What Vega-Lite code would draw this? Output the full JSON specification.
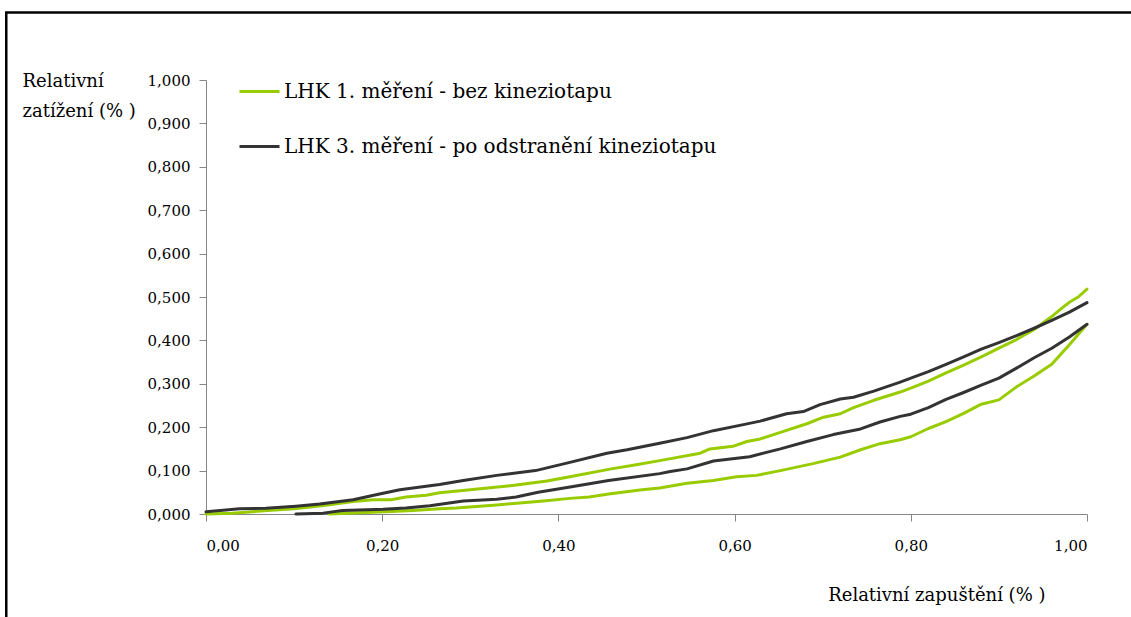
{
  "$schema": "https://vega.github.io/schema/vega-lite/v6.json",
  "width": 881,
  "height": 434,
  "autosize": "none",
  "padding": {"left": 206, "top": 80, "right": 44, "bottom": 103},
  "background": "white",
  "config": {
    "view": {"stroke": null},
    "font": "DejaVu Serif",
    "axis": {
      "grid": false,
      "domainColor": "#868686",
      "tickColor": "#868686",
      "labelColor": "black",
      "titleColor": "black",
      "labelFont": "DejaVu Serif",
      "titleFont": "DejaVu Serif",
      "titleFontWeight": "normal",
      "labelFontSize": 15,
      "titleFontSize": 18
    },
    "legend": {"labelFont": "DejaVu Serif"}
  },
  "layer": [
    {
      "data": {"values": [{}]},
      "mark": {"type": "rect", "filled": false, "stroke": "black", "strokeWidth": 2.5},
      "encoding": {
        "x": {"datum": -0.2267, "type": "quantitative"},
        "x2": {"datum": 1.3},
        "y": {"datum": 1.1555, "type": "quantitative"},
        "y2": {"datum": -0.4}
      }
    },
    {
      "data": {
        "values": [
          {"m": "LHK 1. měření - bez kineziotapu", "f": "zatížení", "x": 0.0, "y": 0.0},
          {"m": "LHK 1. měření - bez kineziotapu", "f": "zatížení", "x": 0.03, "y": 0.002},
          {"m": "LHK 1. měření - bez kineziotapu", "f": "zatížení", "x": 0.07, "y": 0.008},
          {"m": "LHK 1. měření - bez kineziotapu", "f": "zatížení", "x": 0.10, "y": 0.012},
          {"m": "LHK 1. měření - bez kineziotapu", "f": "zatížení", "x": 0.136, "y": 0.020},
          {"m": "LHK 1. měření - bez kineziotapu", "f": "zatížení", "x": 0.167, "y": 0.029},
          {"m": "LHK 1. měření - bez kineziotapu", "f": "zatížení", "x": 0.19, "y": 0.033},
          {"m": "LHK 1. měření - bez kineziotapu", "f": "zatížení", "x": 0.21, "y": 0.033},
          {"m": "LHK 1. měření - bez kineziotapu", "f": "zatížení", "x": 0.227, "y": 0.039},
          {"m": "LHK 1. měření - bez kineziotapu", "f": "zatížení", "x": 0.25, "y": 0.043},
          {"m": "LHK 1. měření - bez kineziotapu", "f": "zatížení", "x": 0.265, "y": 0.049},
          {"m": "LHK 1. měření - bez kineziotapu", "f": "zatížení", "x": 0.30, "y": 0.056},
          {"m": "LHK 1. měření - bez kineziotapu", "f": "zatížení", "x": 0.35, "y": 0.066},
          {"m": "LHK 1. měření - bez kineziotapu", "f": "zatížení", "x": 0.387, "y": 0.076},
          {"m": "LHK 1. měření - bez kineziotapu", "f": "zatížení", "x": 0.413, "y": 0.086},
          {"m": "LHK 1. měření - bez kineziotapu", "f": "zatížení", "x": 0.46, "y": 0.104},
          {"m": "LHK 1. měření - bez kineziotapu", "f": "zatížení", "x": 0.49, "y": 0.114},
          {"m": "LHK 1. měření - bez kineziotapu", "f": "zatížení", "x": 0.515, "y": 0.123},
          {"m": "LHK 1. měření - bez kineziotapu", "f": "zatížení", "x": 0.561, "y": 0.140},
          {"m": "LHK 1. měření - bez kineziotapu", "f": "zatížení", "x": 0.572, "y": 0.150},
          {"m": "LHK 1. měření - bez kineziotapu", "f": "zatížení", "x": 0.598, "y": 0.156},
          {"m": "LHK 1. měření - bez kineziotapu", "f": "zatížení", "x": 0.614, "y": 0.167},
          {"m": "LHK 1. měření - bez kineziotapu", "f": "zatížení", "x": 0.629, "y": 0.173},
          {"m": "LHK 1. měření - bez kineziotapu", "f": "zatížení", "x": 0.652, "y": 0.188},
          {"m": "LHK 1. měření - bez kineziotapu", "f": "zatížení", "x": 0.682, "y": 0.208},
          {"m": "LHK 1. měření - bez kineziotapu", "f": "zatížení", "x": 0.701, "y": 0.223},
          {"m": "LHK 1. měření - bez kineziotapu", "f": "zatížení", "x": 0.72, "y": 0.231},
          {"m": "LHK 1. měření - bez kineziotapu", "f": "zatížení", "x": 0.735, "y": 0.245},
          {"m": "LHK 1. měření - bez kineziotapu", "f": "zatížení", "x": 0.758, "y": 0.262},
          {"m": "LHK 1. měření - bez kineziotapu", "f": "zatížení", "x": 0.788, "y": 0.281},
          {"m": "LHK 1. měření - bez kineziotapu", "f": "zatížení", "x": 0.80, "y": 0.290},
          {"m": "LHK 1. měření - bez kineziotapu", "f": "zatížení", "x": 0.82, "y": 0.306},
          {"m": "LHK 1. měření - bez kineziotapu", "f": "zatížení", "x": 0.84, "y": 0.325},
          {"m": "LHK 1. měření - bez kineziotapu", "f": "zatížení", "x": 0.86, "y": 0.343},
          {"m": "LHK 1. měření - bez kineziotapu", "f": "zatížení", "x": 0.88, "y": 0.362},
          {"m": "LHK 1. měření - bez kineziotapu", "f": "zatížení", "x": 0.90, "y": 0.382},
          {"m": "LHK 1. měření - bez kineziotapu", "f": "zatížení", "x": 0.92, "y": 0.402},
          {"m": "LHK 1. měření - bez kineziotapu", "f": "zatížení", "x": 0.94, "y": 0.425},
          {"m": "LHK 1. měření - bez kineziotapu", "f": "zatížení", "x": 0.96, "y": 0.455},
          {"m": "LHK 1. měření - bez kineziotapu", "f": "zatížení", "x": 0.97, "y": 0.472},
          {"m": "LHK 1. měření - bez kineziotapu", "f": "zatížení", "x": 0.98, "y": 0.488},
          {"m": "LHK 1. měření - bez kineziotapu", "f": "zatížení", "x": 0.99, "y": 0.500},
          {"m": "LHK 1. měření - bez kineziotapu", "f": "zatížení", "x": 1.00, "y": 0.518},

          {"m": "LHK 1. měření - bez kineziotapu", "f": "odlehčení", "x": 1.00, "y": 0.437},
          {"m": "LHK 1. měření - bez kineziotapu", "f": "odlehčení", "x": 0.98, "y": 0.390},
          {"m": "LHK 1. měření - bez kineziotapu", "f": "odlehčení", "x": 0.96, "y": 0.345},
          {"m": "LHK 1. měření - bez kineziotapu", "f": "odlehčení", "x": 0.94, "y": 0.318},
          {"m": "LHK 1. měření - bez kineziotapu", "f": "odlehčení", "x": 0.92, "y": 0.293},
          {"m": "LHK 1. měření - bez kineziotapu", "f": "odlehčení", "x": 0.90, "y": 0.263},
          {"m": "LHK 1. měření - bez kineziotapu", "f": "odlehčení", "x": 0.88, "y": 0.253},
          {"m": "LHK 1. měření - bez kineziotapu", "f": "odlehčení", "x": 0.86, "y": 0.232},
          {"m": "LHK 1. měření - bez kineziotapu", "f": "odlehčení", "x": 0.84, "y": 0.213},
          {"m": "LHK 1. měření - bez kineziotapu", "f": "odlehčení", "x": 0.82, "y": 0.197},
          {"m": "LHK 1. měření - bez kineziotapu", "f": "odlehčení", "x": 0.80, "y": 0.178},
          {"m": "LHK 1. měření - bez kineziotapu", "f": "odlehčení", "x": 0.788, "y": 0.171},
          {"m": "LHK 1. měření - bez kineziotapu", "f": "odlehčení", "x": 0.765, "y": 0.162},
          {"m": "LHK 1. měření - bez kineziotapu", "f": "odlehčení", "x": 0.743, "y": 0.148},
          {"m": "LHK 1. měření - bez kineziotapu", "f": "odlehčení", "x": 0.72, "y": 0.131},
          {"m": "LHK 1. měření - bez kineziotapu", "f": "odlehčení", "x": 0.689, "y": 0.116},
          {"m": "LHK 1. měření - bez kineziotapu", "f": "odlehčení", "x": 0.652, "y": 0.100},
          {"m": "LHK 1. měření - bez kineziotapu", "f": "odlehčení", "x": 0.625, "y": 0.089},
          {"m": "LHK 1. měření - bez kineziotapu", "f": "odlehčení", "x": 0.602, "y": 0.086},
          {"m": "LHK 1. měření - bez kineziotapu", "f": "odlehčení", "x": 0.576, "y": 0.077},
          {"m": "LHK 1. měření - bez kineziotapu", "f": "odlehčení", "x": 0.546, "y": 0.071},
          {"m": "LHK 1. měření - bez kineziotapu", "f": "odlehčení", "x": 0.515, "y": 0.060},
          {"m": "LHK 1. měření - bez kineziotapu", "f": "odlehčení", "x": 0.495, "y": 0.056},
          {"m": "LHK 1. měření - bez kineziotapu", "f": "odlehčení", "x": 0.457, "y": 0.046},
          {"m": "LHK 1. měření - bez kineziotapu", "f": "odlehčení", "x": 0.435, "y": 0.039},
          {"m": "LHK 1. měření - bez kineziotapu", "f": "odlehčení", "x": 0.413, "y": 0.036},
          {"m": "LHK 1. měření - bez kineziotapu", "f": "odlehčení", "x": 0.383, "y": 0.030},
          {"m": "LHK 1. měření - bez kineziotapu", "f": "odlehčení", "x": 0.33, "y": 0.021},
          {"m": "LHK 1. měření - bez kineziotapu", "f": "odlehčení", "x": 0.284, "y": 0.014},
          {"m": "LHK 1. měření - bez kineziotapu", "f": "odlehčení", "x": 0.265, "y": 0.012},
          {"m": "LHK 1. měření - bez kineziotapu", "f": "odlehčení", "x": 0.235, "y": 0.008},
          {"m": "LHK 1. měření - bez kineziotapu", "f": "odlehčení", "x": 0.204, "y": 0.005},
          {"m": "LHK 1. měření - bez kineziotapu", "f": "odlehčení", "x": 0.174, "y": 0.003},
          {"m": "LHK 1. měření - bez kineziotapu", "f": "odlehčení", "x": 0.14, "y": 0.0},

          {"m": "LHK 3. měření - po odstranění kineziotapu", "f": "zatížení", "x": 0.0, "y": 0.005},
          {"m": "LHK 3. měření - po odstranění kineziotapu", "f": "zatížení", "x": 0.038, "y": 0.012},
          {"m": "LHK 3. měření - po odstranění kineziotapu", "f": "zatížení", "x": 0.068, "y": 0.013},
          {"m": "LHK 3. měření - po odstranění kineziotapu", "f": "zatížení", "x": 0.102, "y": 0.018},
          {"m": "LHK 3. měření - po odstranění kineziotapu", "f": "zatížení", "x": 0.129, "y": 0.023},
          {"m": "LHK 3. měření - po odstranění kineziotapu", "f": "zatížení", "x": 0.167, "y": 0.033},
          {"m": "LHK 3. měření - po odstranění kineziotapu", "f": "zatížení", "x": 0.197, "y": 0.046},
          {"m": "LHK 3. měření - po odstranění kineziotapu", "f": "zatížení", "x": 0.22, "y": 0.056},
          {"m": "LHK 3. měření - po odstranění kineziotapu", "f": "zatížení", "x": 0.265, "y": 0.068},
          {"m": "LHK 3. měření - po odstranění kineziotapu", "f": "zatížení", "x": 0.292, "y": 0.077},
          {"m": "LHK 3. měření - po odstranění kineziotapu", "f": "zatížení", "x": 0.33, "y": 0.089},
          {"m": "LHK 3. měření - po odstranění kineziotapu", "f": "zatížení", "x": 0.374, "y": 0.100},
          {"m": "LHK 3. měření - po odstranění kineziotapu", "f": "zatížení", "x": 0.413, "y": 0.119},
          {"m": "LHK 3. měření - po odstranění kineziotapu", "f": "zatížení", "x": 0.455, "y": 0.140},
          {"m": "LHK 3. měření - po odstranění kineziotapu", "f": "zatížení", "x": 0.478, "y": 0.148},
          {"m": "LHK 3. měření - po odstranění kineziotapu", "f": "zatížení", "x": 0.515, "y": 0.163},
          {"m": "LHK 3. měření - po odstranění kineziotapu", "f": "zatížení", "x": 0.546, "y": 0.176},
          {"m": "LHK 3. měření - po odstranění kineziotapu", "f": "zatížení", "x": 0.576, "y": 0.192},
          {"m": "LHK 3. měření - po odstranění kineziotapu", "f": "zatížení", "x": 0.61, "y": 0.206},
          {"m": "LHK 3. měření - po odstranění kineziotapu", "f": "zatížení", "x": 0.629, "y": 0.214},
          {"m": "LHK 3. měření - po odstranění kineziotapu", "f": "zatížení", "x": 0.659, "y": 0.231},
          {"m": "LHK 3. měření - po odstranění kineziotapu", "f": "zatížení", "x": 0.678, "y": 0.236},
          {"m": "LHK 3. měření - po odstranění kineziotapu", "f": "zatížení", "x": 0.697, "y": 0.252},
          {"m": "LHK 3. měření - po odstranění kineziotapu", "f": "zatížení", "x": 0.72, "y": 0.265},
          {"m": "LHK 3. měření - po odstranění kineziotapu", "f": "zatížení", "x": 0.735, "y": 0.269},
          {"m": "LHK 3. měření - po odstranění kineziotapu", "f": "zatížení", "x": 0.758, "y": 0.283},
          {"m": "LHK 3. měření - po odstranění kineziotapu", "f": "zatížení", "x": 0.788, "y": 0.304},
          {"m": "LHK 3. měření - po odstranění kineziotapu", "f": "zatížení", "x": 0.80, "y": 0.313},
          {"m": "LHK 3. měření - po odstranění kineziotapu", "f": "zatížení", "x": 0.82, "y": 0.328},
          {"m": "LHK 3. měření - po odstranění kineziotapu", "f": "zatížení", "x": 0.84, "y": 0.345},
          {"m": "LHK 3. měření - po odstranění kineziotapu", "f": "zatížení", "x": 0.86, "y": 0.362},
          {"m": "LHK 3. měření - po odstranění kineziotapu", "f": "zatížení", "x": 0.88, "y": 0.380},
          {"m": "LHK 3. měření - po odstranění kineziotapu", "f": "zatížení", "x": 0.90, "y": 0.395},
          {"m": "LHK 3. měření - po odstranění kineziotapu", "f": "zatížení", "x": 0.92, "y": 0.411},
          {"m": "LHK 3. měření - po odstranění kineziotapu", "f": "zatížení", "x": 0.94, "y": 0.428},
          {"m": "LHK 3. měření - po odstranění kineziotapu", "f": "zatížení", "x": 0.96, "y": 0.446},
          {"m": "LHK 3. měření - po odstranění kineziotapu", "f": "zatížení", "x": 0.98, "y": 0.465},
          {"m": "LHK 3. měření - po odstranění kineziotapu", "f": "zatížení", "x": 1.00, "y": 0.487},

          {"m": "LHK 3. měření - po odstranění kineziotapu", "f": "odlehčení", "x": 1.00, "y": 0.437},
          {"m": "LHK 3. měření - po odstranění kineziotapu", "f": "odlehčení", "x": 0.98, "y": 0.408},
          {"m": "LHK 3. měření - po odstranění kineziotapu", "f": "odlehčení", "x": 0.96, "y": 0.382},
          {"m": "LHK 3. měření - po odstranění kineziotapu", "f": "odlehčení", "x": 0.94, "y": 0.360},
          {"m": "LHK 3. měření - po odstranění kineziotapu", "f": "odlehčení", "x": 0.92, "y": 0.336},
          {"m": "LHK 3. měření - po odstranění kineziotapu", "f": "odlehčení", "x": 0.90, "y": 0.313},
          {"m": "LHK 3. měření - po odstranění kineziotapu", "f": "odlehčení", "x": 0.88, "y": 0.297},
          {"m": "LHK 3. měření - po odstranění kineziotapu", "f": "odlehčení", "x": 0.86, "y": 0.280},
          {"m": "LHK 3. měření - po odstranění kineziotapu", "f": "odlehčení", "x": 0.84, "y": 0.264},
          {"m": "LHK 3. měření - po odstranění kineziotapu", "f": "odlehčení", "x": 0.82, "y": 0.245},
          {"m": "LHK 3. měření - po odstranění kineziotapu", "f": "odlehčení", "x": 0.80, "y": 0.230},
          {"m": "LHK 3. měření - po odstranění kineziotapu", "f": "odlehčení", "x": 0.788, "y": 0.225},
          {"m": "LHK 3. měření - po odstranění kineziotapu", "f": "odlehčení", "x": 0.765, "y": 0.212},
          {"m": "LHK 3. měření - po odstranění kineziotapu", "f": "odlehčení", "x": 0.743, "y": 0.196},
          {"m": "LHK 3. měření - po odstranění kineziotapu", "f": "odlehčení", "x": 0.712, "y": 0.183},
          {"m": "LHK 3. měření - po odstranění kineziotapu", "f": "odlehčení", "x": 0.682, "y": 0.167},
          {"m": "LHK 3. měření - po odstranění kineziotapu", "f": "odlehčení", "x": 0.652, "y": 0.150},
          {"m": "LHK 3. měření - po odstranění kineziotapu", "f": "odlehčení", "x": 0.617, "y": 0.132},
          {"m": "LHK 3. měření - po odstranění kineziotapu", "f": "odlehčení", "x": 0.576, "y": 0.122},
          {"m": "LHK 3. měření - po odstranění kineziotapu", "f": "odlehčení", "x": 0.546, "y": 0.104},
          {"m": "LHK 3. měření - po odstranění kineziotapu", "f": "odlehčení", "x": 0.527, "y": 0.098},
          {"m": "LHK 3. měření - po odstranění kineziotapu", "f": "odlehčení", "x": 0.515, "y": 0.093},
          {"m": "LHK 3. měření - po odstranění kineziotapu", "f": "odlehčení", "x": 0.457, "y": 0.077},
          {"m": "LHK 3. měření - po odstranění kineziotapu", "f": "odlehčení", "x": 0.415, "y": 0.063},
          {"m": "LHK 3. měření - po odstranění kineziotapu", "f": "odlehčení", "x": 0.377, "y": 0.050},
          {"m": "LHK 3. měření - po odstranění kineziotapu", "f": "odlehčení", "x": 0.352, "y": 0.039},
          {"m": "LHK 3. měření - po odstranění kineziotapu", "f": "odlehčení", "x": 0.33, "y": 0.034},
          {"m": "LHK 3. měření - po odstranění kineziotapu", "f": "odlehčení", "x": 0.292, "y": 0.030},
          {"m": "LHK 3. měření - po odstranění kineziotapu", "f": "odlehčení", "x": 0.254, "y": 0.019},
          {"m": "LHK 3. měření - po odstranění kineziotapu", "f": "odlehčení", "x": 0.227, "y": 0.014},
          {"m": "LHK 3. měření - po odstranění kineziotapu", "f": "odlehčení", "x": 0.201, "y": 0.011},
          {"m": "LHK 3. měření - po odstranění kineziotapu", "f": "odlehčení", "x": 0.155, "y": 0.008},
          {"m": "LHK 3. měření - po odstranění kineziotapu", "f": "odlehčení", "x": 0.133, "y": 0.002},
          {"m": "LHK 3. měření - po odstranění kineziotapu", "f": "odlehčení", "x": 0.102, "y": 0.0}
        ]
      },
      "mark": {"type": "line", "strokeWidth": 3, "strokeJoin": "round", "strokeCap": "round"},
      "encoding": {
        "x": {
          "field": "x",
          "type": "quantitative",
          "scale": {"domain": [0, 1], "nice": false, "zero": false},
          "axis": {
            "values": [0, 0.2, 0.4, 0.6, 0.8, 1],
            "labelExpr": "replace(format(datum.value, '.2f'), '.', ',')",
            "tickSize": 7,
            "labelPadding": 17,
            "title": "Relativní zapuštění (% )",
            "titleAlign": "right",
            "titleBaseline": "alphabetic",
            "titleX": 839,
            "titleY": 86
          }
        },
        "y": {
          "field": "y",
          "type": "quantitative",
          "scale": {"domain": [0, 1], "nice": false, "zero": false},
          "axis": {
            "values": [0, 0.1, 0.2, 0.3, 0.4, 0.5, 0.6, 0.7, 0.8, 0.9, 1],
            "labelExpr": "replace(format(datum.value, '.3f'), '.', ',')",
            "tickSize": 7,
            "labelPadding": 9,
            "title": ["Relativní", "zatížení (% )"],
            "titleAngle": 0,
            "titleAlign": "left",
            "titleBaseline": "alphabetic",
            "titleX": -184,
            "titleY": 6,
            "titleLineHeight": 30
          }
        },
        "color": {
          "field": "m",
          "type": "nominal",
          "scale": {
            "domain": ["LHK 1. měření - bez kineziotapu", "LHK 3. měření - po odstranění kineziotapu"],
            "range": ["#99cc00", "#333333"]
          },
          "legend": {
            "title": null,
            "orient": "none",
            "legendX": 32,
            "legendY": -10,
            "symbolType": "stroke",
            "symbolSize": 1600,
            "symbolStrokeWidth": 3,
            "labelFont": "DejaVu Serif",
            "labelFontSize": 20,
            "labelColor": "black",
            "labelLimit": 0,
            "labelOffset": 3,
            "rowPadding": 23
          }
        },
        "detail": {"field": "f", "type": "nominal"}
      }
    }
  ]
}
